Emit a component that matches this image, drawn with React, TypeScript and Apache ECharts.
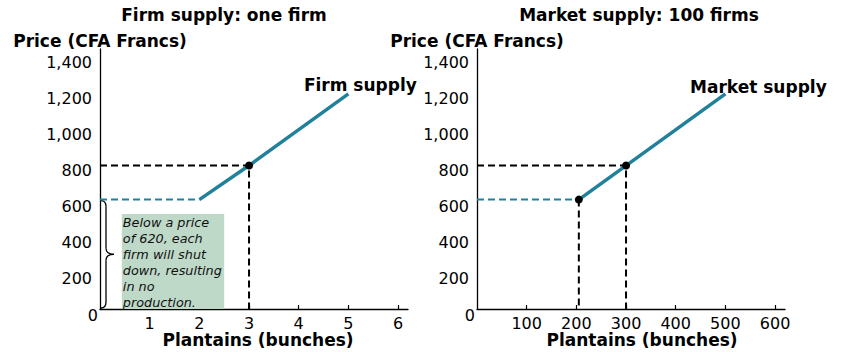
import React, { useEffect, useRef } from "react";
import * as echarts from "echarts";

const firmQty = [2, 3, 5];
const firmPrice = [610, 800, 1200];
const marketQty = [205, 300, 500];
const marketPrice = [610, 800, 1200];
const shutdownPrice = 610;
const eqPrice = 800;
const eqFirmQty = 3;
const eqMarketQty = 300;
const priceTicks = [0, 200, 400, 600, 800, 1000, 1200, 1400];
const firmQtyTicks = [1, 2, 3, 4, 5, 6];
const marketQtyTicks = [100, 200, 300, 400, 500, 600];
const boxLines = [
  "Below a price",
  "of 620, each",
  "firm will shut",
  "down, resulting",
  "in no",
  "production.",
];

const FONT = "DejaVu Sans";
const TEAL = "#21819b";

function yAxisCfg(gridIndex: number) {
  return {
    type: "value",
    gridIndex,
    min: 0,
    max: 1450,
    name: "Price (CFA Francs)",
    nameLocation: "end",
    nameGap: 0,
    nameTextStyle: { fontFamily: FONT, fontSize: 17, fontWeight: "bold", color: "#000", align: "center" },
    axisLine: { show: true, lineStyle: { color: "#000", width: 1.3 } },
    axisTick: { show: false },
    splitLine: { show: false },
    axisLabel: {
      customValues: priceTicks,
      margin: 2,
      formatter: (v: number) => (v === 0 ? "{z|0}" : `{n|${v.toLocaleString("en-US")}}`),
      rich: {
        n: { fontFamily: FONT, fontSize: 16, color: "#000", padding: [10, 6, 0, 0] },
        z: { fontFamily: FONT, fontSize: 16, color: "#000", padding: [12, 0, 0, 0] },
      },
    },
  };
}

function xAxisCfg(gridIndex: number, max: number, ticks: number[], namePad: number) {
  return {
    type: "value",
    gridIndex,
    min: 0,
    max,
    name: "Plantains (bunches)",
    nameLocation: "middle",
    nameGap: 23,
    nameMoveOverlap: false,
    nameTextStyle: { fontFamily: FONT, fontSize: 17, fontWeight: "bold", color: "#000", lineHeight: 15, padding: [0, 0, 0, namePad] },
    axisLine: { show: true, lineStyle: { color: "#000", width: 1.3 } },
    axisTick: { show: true, inside: true, length: 4, customValues: ticks, lineStyle: { color: "#000", width: 1.2 } },
    splitLine: { show: false },
    axisLabel: { customValues: ticks, margin: 7, fontFamily: FONT, fontSize: 16, lineHeight: 14, color: "#000" },
  };
}

function zip(xs: number[], ys: number[]) {
  return xs.map((x, i) => [x, ys[i]]);
}

export default function App() {
  const ref = useRef<HTMLDivElement>(null);
  useEffect(() => {
    if (!ref.current) return;
    const chart = echarts.init(ref.current, null, { renderer: "svg" });
    const dash = [7, 4];
    const makeSupply = (gi: number, data: number[][], name: string, offset: number[]) => [
      {
        type: "line",
        xAxisIndex: gi,
        yAxisIndex: gi,
        data,
        symbol: "none",
        z: 4,
        lineStyle: { color: TEAL, width: 3.5 },
      },
      {
        type: "scatter",
        xAxisIndex: gi,
        yAxisIndex: gi,
        data: [data[data.length - 1]],
        symbolSize: 0,
        z: 5,
        itemStyle: { opacity: 1 },
        label: {
          show: true,
          formatter: name,
          position: "top",
          distance: 0,
          offset,
          fontFamily: FONT,
          fontSize: 17,
          fontWeight: "bold",
          color: "#000",
          textBorderWidth: 0,
        },
      },
    ];
    const option: any = {
      animation: false,
      textStyle: { fontFamily: FONT },
      title: [
        { text: "Firm supply: one firm", left: 219, top: 1, textAlign: "center", textStyle: { fontFamily: FONT, fontSize: 17, fontWeight: "bold", color: "#000" } },
        { text: "Market supply: 100 firms", left: 634, top: 1, textAlign: "center", textStyle: { fontFamily: FONT, fontSize: 17, fontWeight: "bold", color: "#000" } },
      ],
      grid: [
        { left: 100, top: 49, width: 308, height: 260, outerBoundsMode: "none", containLabel: false },
        { left: 477, top: 49, width: 308, height: 260, outerBoundsMode: "none", containLabel: false },
      ],
      xAxis: [xAxisCfg(0, 6.2, firmQtyTicks, 8), xAxisCfg(1, 620, marketQtyTicks, 22)],
      yAxis: [yAxisCfg(0), yAxisCfg(1)],
      series: [
        {
          type: "custom",
          xAxisIndex: 0,
          yAxisIndex: 0,
          data: [[0, shutdownPrice]],
          z: 1,
          renderItem: (params: any, api: any) => {
            const top = api.coord([0, shutdownPrice]);
            const bot = api.coord([0, 0]);
            const b1 = api.coord([0.44, 530]);
            const b2 = api.coord([2.5, 0]);
            const x0 = top[0] + 1;
            const xm = x0 + 5;
            const tip = x0 + 13;
            const yT = top[1] + 1;
            const yB = bot[1] - 1;
            const ym = (yT + yB) / 2;
            const r = 6;
            const st = { stroke: "#000", lineWidth: 1.3, fill: null };
            return {
              type: "group",
              children: [
                { type: "rect", shape: { x: b1[0], y: b1[1], width: b2[0] - b1[0], height: b2[1] - b1[1] }, style: { fill: "#bfd9c9" } },
                {
                  type: "text",
                  style: {
                    text: boxLines.join("\n"),
                    x: b1[0] + 1,
                    y: b1[1] + 1,
                    fill: "#111",
                    font: `italic 12.8px '${FONT}'`,
                    lineHeight: 16,
                    verticalAlign: "top",
                  },
                },
                { type: "bezierCurve", shape: { x1: x0, y1: yT, cpx1: xm, cpy1: yT, x2: xm, y2: yT + r }, style: st },
                { type: "line", shape: { x1: xm, y1: yT + r, x2: xm, y2: ym - r }, style: st },
                { type: "bezierCurve", shape: { x1: xm, y1: ym - r, cpx1: xm, cpy1: ym, x2: tip, y2: ym }, style: st },
                { type: "bezierCurve", shape: { x1: tip, y1: ym, cpx1: xm, cpy1: ym, x2: xm, y2: ym + r }, style: st },
                { type: "line", shape: { x1: xm, y1: ym + r, x2: xm, y2: yB - r }, style: st },
                { type: "bezierCurve", shape: { x1: xm, y1: yB - r, cpx1: xm, cpy1: yB, x2: x0, y2: yB }, style: st },
              ],
            };
          },
        },
        {
          type: "line",
          xAxisIndex: 0,
          yAxisIndex: 0,
          data: [[0, shutdownPrice], [firmQty[0], shutdownPrice]],
          symbol: "none",
          z: 2,
          lineStyle: { color: TEAL, width: 2, type: dash },
        },
        {
          type: "line",
          xAxisIndex: 0,
          yAxisIndex: 0,
          data: [[0, eqPrice], [eqFirmQty, eqPrice], [eqFirmQty, 0]],
          symbol: "none",
          z: 2,
          lineStyle: { color: "#000", width: 2, type: dash },
        },
        ...makeSupply(0, zip(firmQty, firmPrice), "Firm supply", [12, 0]),
        {
          type: "scatter",
          xAxisIndex: 0,
          yAxisIndex: 0,
          data: [[eqFirmQty, eqPrice]],
          symbolSize: 8,
          z: 6,
          itemStyle: { color: "#000", opacity: 1 },
        },
        {
          type: "line",
          xAxisIndex: 1,
          yAxisIndex: 1,
          data: [[0, shutdownPrice], [marketQty[0], shutdownPrice]],
          symbol: "none",
          z: 2,
          lineStyle: { color: TEAL, width: 2, type: dash },
        },
        {
          type: "line",
          xAxisIndex: 1,
          yAxisIndex: 1,
          data: [[0, eqPrice], [eqMarketQty, eqPrice], [eqMarketQty, 0]],
          symbol: "none",
          z: 2,
          lineStyle: { color: "#000", width: 2, type: dash },
        },
        {
          type: "line",
          xAxisIndex: 1,
          yAxisIndex: 1,
          data: [[marketQty[0], shutdownPrice], [marketQty[0], 0]],
          symbol: "none",
          z: 2,
          lineStyle: { color: "#000", width: 2, type: dash },
        },
        ...makeSupply(1, zip(marketQty, marketPrice), "Market supply", [33, 2]),
        {
          type: "scatter",
          xAxisIndex: 1,
          yAxisIndex: 1,
          data: [[marketQty[0], shutdownPrice], [eqMarketQty, eqPrice]],
          symbolSize: 8,
          z: 6,
          itemStyle: { color: "#000", opacity: 1 },
        },
      ],
    };
    chart.setOption(option);
    return () => chart.dispose();
  }, []);
  return (
    <div
      ref={ref}
      style={{ position: "fixed", left: 0, top: 0, width: 843, height: 352, background: "#fff" }}
    />
  );
}
